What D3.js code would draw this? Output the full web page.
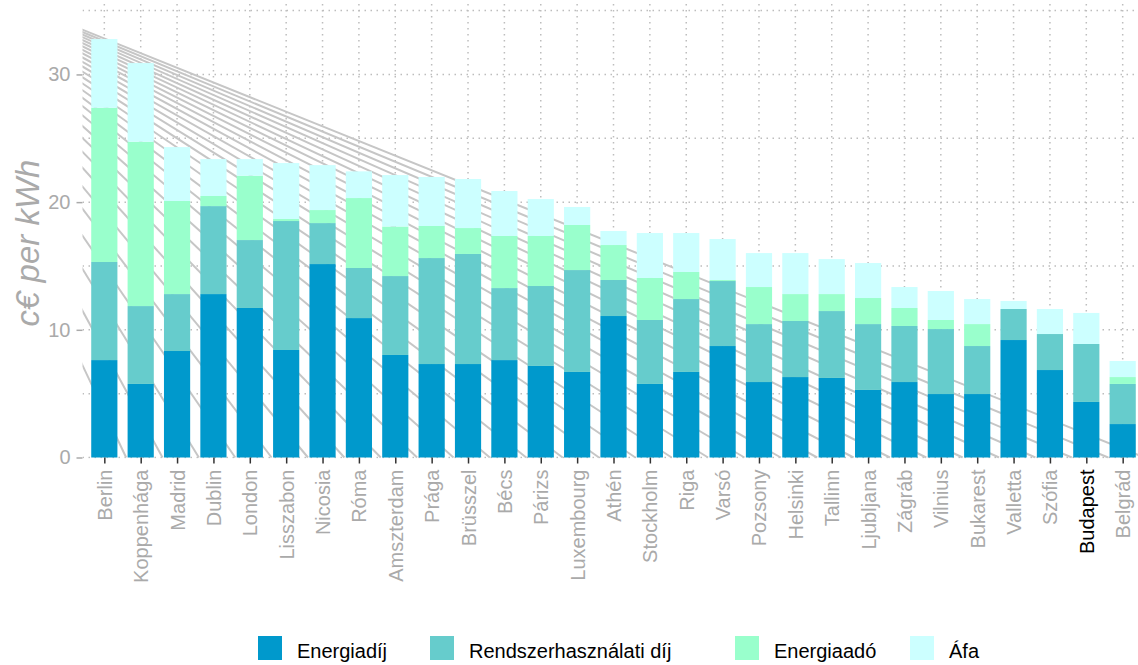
<!DOCTYPE html>
<html>
<head>
<meta charset="utf-8">
<script src="https://cdn.jsdelivr.net/npm/d3@7"></script>
<style>
  html, body { margin: 0; padding: 0; background: #ffffff; }
  svg { display: block; }
  text { font-family: "Liberation Sans", Arial, sans-serif; }
</style>
</head>
<body>
<svg id="chart" width="1138" height="665"></svg>
<script>
const cities = ["Berlin","Koppenhága","Madrid","Dublin","London","Lisszabon","Nicosia","Róma","Amszterdam","Prága","Brüsszel","Bécs","Párizs","Luxembourg","Athén","Stockholm","Riga","Varsó","Pozsony","Helsinki","Tallinn","Ljubljana","Zágráb","Vilnius","Bukarest","Valletta","Szófia","Budapest","Belgrád"];
const energiadij = [7.63,5.76,8.34,12.80,11.71,8.42,15.15,10.92,8.03,7.32,7.32,7.63,7.17,6.70,11.08,5.76,6.70,8.73,5.91,6.30,6.23,5.29,5.91,4.97,4.97,9.20,6.85,4.35,2.62];
const rendszerdij = [7.68,6.10,4.46,6.89,5.32,10.10,3.21,3.92,6.18,8.30,8.62,5.64,6.26,7.98,2.82,5.01,5.71,5.09,4.54,4.39,5.24,5.16,4.39,5.09,3.76,2.43,2.82,4.54,3.14];
const energiaado = [12.08,12.87,7.29,0.79,5.04,0.16,1.02,5.48,3.88,2.51,2.03,4.08,3.92,3.53,2.74,3.29,2.12,0.08,2.90,2.11,1.33,2.04,1.41,0.71,1.72,0,0,0,0.54];
const afa = [5.38,6.16,4.22,2.89,1.30,4.38,3.52,2.09,4.03,3.84,3.84,3.52,2.89,1.41,1.10,3.52,3.05,3.21,2.66,3.21,2.74,2.74,1.64,2.27,1.96,0.63,1.96,2.43,1.26];
const seriesNames = ["Energiadíj","Rendszerhasználati díj","Energiaadó","Áfa"];
const seriesColors = ["#0099cc","#66cccc","#99ffcc","#ccffff"];
const yTicks = [0,10,20,30];
const yGrid = [0,5,10,15,20,25,30,35];
const highlight = "Budapest";

const svg = d3.select("#chart");
const panel = {left: 82.5, right: 1144.5, top: 4, bottom: 457.5};

const x = d3.scalePoint().domain(cities).range([panel.left, panel.right]).padding(0.6);
const step = x.step();
const barW = step * 0.72;
const y = d3.scaleLinear().domain([0, 35]).range([panel.bottom, 10.6]);

const table = cities.map((c, i) => ({city: c, s0: energiadij[i], s1: rendszerdij[i], s2: energiaado[i], s3: afa[i]}));
const stack = d3.stack().keys(["s0","s1","s2","s3"])(table);

const defs = svg.append("defs");
defs.append("clipPath").attr("id","panelClip").append("rect")
  .attr("x", panel.left).attr("y", panel.top)
  .attr("width", panel.right - panel.left).attr("height", panel.bottom - panel.top + 1);

const gPanel = svg.append("g").attr("clip-path","url(#panelClip)");

// dotted grid
gPanel.append("g").selectAll("line").data(yGrid).join("line")
  .attr("x1", panel.left).attr("x2", panel.right)
  .attr("y1", d => y(d)).attr("y2", d => y(d))
  .attr("stroke", "#bdbdbd").attr("stroke-width", 1.5)
  .attr("stroke-dasharray", "1.5,4.5");
gPanel.append("g").selectAll("line").data(cities).join("line")
  .attr("x1", d => x(d)).attr("x2", d => x(d))
  .attr("y1", panel.top).attr("y2", panel.bottom)
  .attr("stroke", "#bdbdbd").attr("stroke-width", 1.5)
  .attr("stroke-dasharray", "1.5,4.5");

// fan of decorative lines from a common origin to each bar base
const originIdx = -6, originVal = 39.7;
const ox = x(cities[0]) + originIdx * step, oy = y(originVal);
gPanel.append("g").selectAll("line").data(cities).join("line")
  .attr("x1", ox).attr("y1", oy)
  .attr("x2", d => x(d) + step * 0.6).attr("y2", y(0))
  .attr("stroke", "#c6c6c6").attr("stroke-width", 2);

// bars
const gBars = svg.append("g");
stack.forEach((layer, k) => {
  gBars.append("g").attr("fill", seriesColors[k]).selectAll("rect").data(layer).join("rect")
    .attr("x", d => x(d.data.city) - barW / 2)
    .attr("width", barW)
    .attr("y", d => y(d[1]))
    .attr("height", d => Math.max(0, y(d[0]) - y(d[1])));
});

// y axis
const yAxis = d3.axisLeft(y).tickValues(yTicks).tickSize(6).tickPadding(6).tickFormat(d3.format("d"));
const gy = svg.append("g").attr("transform", `translate(${panel.left},0)`).call(yAxis);
gy.select(".domain").remove();
gy.selectAll(".tick line").attr("stroke", "#aaaaaa").attr("stroke-width", 1.5);
gy.selectAll(".tick text").attr("fill", "#aaaaaa").style("font-size", "20px")
  .style("font-family", "'Liberation Sans', Arial, sans-serif");

// x axis
const xAxis = d3.axisBottom(x).tickSize(6).tickPadding(6);
const gx = svg.append("g").attr("transform", `translate(0,${panel.bottom})`).call(xAxis);
gx.select(".domain").remove();
gx.selectAll(".tick line").attr("stroke", "#333333").attr("stroke-width", 1.5);
gx.selectAll(".tick text")
  .attr("fill", d => d === highlight ? "#000000" : "#aaaaaa")
  .style("font-size", "20px")
  .style("font-family", "'Liberation Sans', Arial, sans-serif")
  .attr("text-anchor", "end")
  .attr("transform", "rotate(-90)")
  .attr("x", -12).attr("y", 0).attr("dy", "0.35em");

// y title
svg.append("text")
  .attr("transform", `translate(39,243) rotate(-90)`)
  .attr("text-anchor", "middle")
  .attr("fill", "#aaaaaa")
  .style("font-size", "33px").style("font-style", "italic")
  .text("c€ per kWh");

// legend
const legendX = [258, 430, 735, 910];
const gl = svg.append("g");
seriesNames.forEach((name, k) => {
  const g = gl.append("g").attr("transform", `translate(${legendX[k]},636)`);
  g.append("rect").attr("width", 24).attr("height", 24).attr("fill", seriesColors[k]);
  g.append("text").attr("x", 39).attr("y", 22).attr("fill", "#000").style("font-size", "20px").text(name);
});
</script>
</body>
</html>
